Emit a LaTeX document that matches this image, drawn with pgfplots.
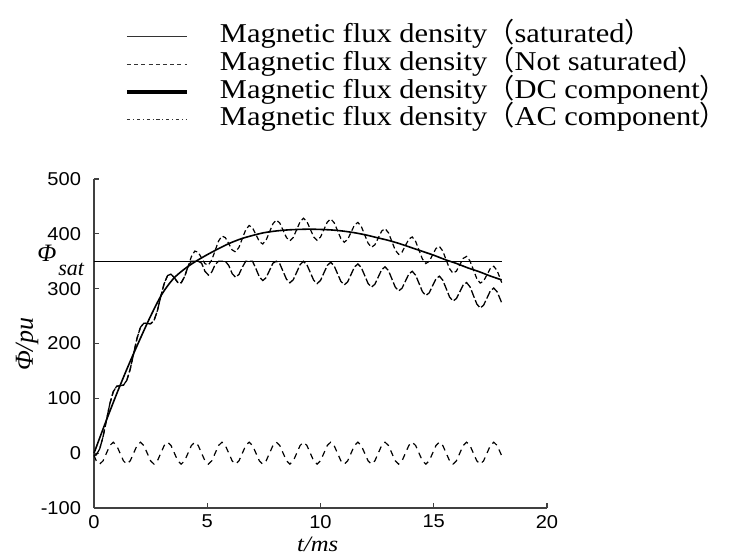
\documentclass[border=0pt]{standalone}
\usepackage{pgfplots}
\pgfplotsset{compat=1.18}
\usepackage{pgfplotstable}
\usepackage{fontspec}
\setmainfont{Liberation Serif}[FakeStretch=1.12]
\newfontfamily\tickfont{Liberation Sans}[FakeStretch=1.08]
\newfontfamily\cjk{Noto Sans CJK SC}
\newfontfamily\labfont{Liberation Serif}
\newcommand{\lp}{{\cjk （}}
\newcommand{\rp}{{\cjk ）}}

\pgfplotstableread{
t ac ns sat
0 -4 -4 -4
0.10 -14 -3 -3
0.25 -20 7.5 7.5
0.40 -14 30 30
0.55 0 60.3 60.3
0.70 14 90.2 90.2
0.85 20 112.1 112.1
1.00 14 122 122
1.15 0 123 123
1.30 -14 124 124
1.45 -20 133 133
1.60 -14 153.4 153.4
1.75 0 181.5 181.5
1.90 14 209.6 209.6
2.05 20 229.5 229.5
2.20 14 237 237
2.35 0 236.5 236.5
2.50 -14 236 236
2.65 -20 242 242
2.80 -14 260 260
2.95 0 286 286
3.10 14 309.6 309.6
3.25 20 324 324
3.40 14 326.4 326.4
3.55 0 319.8 319.8
3.70 -14 311.2 311.2
3.85 -20 310.6 310.6
4.00 -14 322 322
4.15 0 340.2 340.2
4.30 14 358.4 350
4.45 20 368.6 350
4.60 14 366.4 350
4.75 0 356 346.5
4.90 -14 345.6 331.6
5.05 -20 343.1 324.9
5.20 -14 352.4 330.4
5.35 0 369.7 344
5.50 14 387 350
5.65 20 396 350
5.80 14 393 350
5.95 0 382 342.2
6.10 -14 370.6 327.5
6.25 -20 367 320.8
6.40 -14 375.4 326
6.55 0 391.6 339.3
6.70 14 407.4 350
6.85 20 415.2 350
7.00 14 411 350
7.15 0 398.5 336.3
7.30 -14 386 321.5
7.45 -20 381.5 314.8
7.60 -14 388.6 320
7.75 0 403.5 333.3
7.90 14 418.4 346.5
8.05 20 425.2 350
8.20 14 419.8 345.6
8.35 0 406.4 331.3
8.50 -14 393 317
8.65 -20 387.3 310.7
8.80 -14 393.6 316.4
8.95 0 407.9 330.1
9.10 14 422.1 343.9
9.25 20 428.3 349.8
9.40 14 422.4 343.6
9.55 0 408.4 329.5
9.70 -14 394.3 315.3
9.85 -20 388.2 309.2
10.00 -14 394 315
10.15 0 407.7 328.7
10.30 14 421.4 342.4
10.45 20 427.1 348.1
10.60 14 420.6 341.8
10.75 0 406 327.5
10.90 -14 391.4 313.2
11.05 -20 384.7 306.9
11.20 -14 389.8 312.4
11.35 0 402.9 326
11.50 14 416 339.5
11.65 20 420.8 345.1
11.80 14 413.6 338.6
11.95 0 398.4 324.2
12.10 -14 383 309.5
12.25 -20 375.5 302.8
12.40 -14 380 308
12.55 0 392.5 321.3
12.70 14 405 334.5
12.85 20 409.5 339.8
13.00 14 402 333
13.15 0 386.2 318
13.30 -14 370.4 302.9
13.45 -20 362.6 295.9
13.60 -14 366.6 300.8
13.75 0 378.5 313.8
13.90 14 390.4 326.7
14.05 20 394.3 331.7
14.20 14 386.2 324.6
14.35 0 370.1 309.6
14.50 -14 354 294.5
14.65 -20 345.9 287.5
14.80 -14 349.8 292.4
14.95 0 361.7 305.4
15.10 14 373.4 318.1
15.25 20 377 322.8
15.40 14 368.6 315.4
15.55 0 352.3 300.1
15.70 -14 336.2 284.7
15.85 -20 328.1 277.4
16.00 -14 332 282
16.15 0 343.6 294.4
16.30 14 355.2 306.7
16.45 20 358.8 311.1
16.60 14 350.6 303.4
16.75 0 334.5 287.8
16.90 -14 318.4 272.1
17.05 -20 310.2 264.7
17.20 -14 313.8 269.8
17.35 0 325.4 282.9
17.50 14 337 296
17.65 20 340.9 301.1
17.80 14 332.8 294.2
17.95 0 316.7 279.3
18.00 -5 311 274
}\fluxdata

\pgfplotstableread{
t dc
0 0
0.5 55
1 108
1.5 158
2 205
2.5 250
3 290
3.5 318
4 336
4.5 350
5 362
5.5 373
6 383
6.5 391
7 397
7.5 402
8 405
8.5 407
9 408
9.5 408.5
10 408
10.5 407
11 405
11.5 402
12 398
12.5 393
13 388
13.5 382
14 375
14.5 368
15 361
15.5 353
16 346
16.5 338
17 331
17.5 323
18 316
}\dcdata

\begin{document}
\begin{tikzpicture}
\path[use as bounding box] (0,0) rectangle (372bp,279bp);
\begin{axis}[
  at={(47bp,25bp)}, anchor=south west,
  scale only axis, width=226.5bp, height=164.5bp,
  xmin=0, xmax=20, ymin=-100, ymax=500,
  axis x line*=bottom, axis y line*=left,
  xtick={0,5,10,15,20}, ytick={-100,0,100,200,300,400,500},
  tick align=inside, major tick length=2.5bp,
  axis line style={line width=0.7bp, black!75},
  tick style={line width=0.6bp, black!75},
  /pgf/number format/assume math mode=true,
  tick label style={font=\fontsize{9.3bp}{10bp}\tickfont},
  yticklabel style={xshift=-3bp},
  xlabel={\textit{t/ms}},
  ylabel={Φ/\textit{pu}},
  xlabel style={at={(axis description cs:0.494,-0.112)}, anchor=center, font=\fontsize{11bp}{12bp}\selectfont},
  ylabel style={at={(axis description cs:-0.148,0.497)}, anchor=center, rotate=0, font=\fontsize{13bp}{14bp}\labfont\itshape},
  legend style={draw=none, fill=none, inner sep=0pt, outer sep=0pt,
    at={(axis description cs:0.0684,1.475)}, anchor=north west,
    font=\fontsize{13.6bp}{13.85bp}\selectfont,
    row sep=0pt,
    nodes={inner sep=0pt, text height=10bp, text depth=3.85bp},
    /tikz/every odd column/.append style={column sep=15.5bp}},
  legend cell align=left,
  legend image code/.code={\draw[#1] (0bp,0bp) -- (30bp,0bp);},
  clip=false,
]
\addlegendimage{black!80, line width=0.6bp}
\addlegendentry{Magnetic flux density\lp saturated\rp}
\addlegendimage{black!80, line width=0.6bp, dash pattern=on 2bp off 1.6bp}
\addlegendentry{Magnetic flux density\lp Not saturated\rp}
\addlegendimage{black, line width=2bp}
\addlegendentry{Magnetic flux density\lp DC component\rp}
\addlegendimage{black!80, line width=0.6bp, dash pattern=on 1.6bp off 1.4bp on 0.5bp off 1.4bp}
\addlegendentry{Magnetic flux density\lp AC component\rp}

\addplot[forget plot, black, line width=0.7bp] coordinates {(0,350) (18,350)};
\addplot[forget plot, black, line width=0.6bp, dash pattern=on 2.5bp off 1.5bp] table[x=t, y=ns] {\fluxdata};
\addplot[forget plot, black, line width=0.65bp, dash pattern=on 4bp off 1.3bp] table[x=t, y=sat] {\fluxdata};
\addplot[forget plot, black, line width=0.6bp, dash pattern=on 3bp off 2.5bp] table[x=t, y=ac] {\fluxdata};
\addplot[forget plot, black, line width=0.8bp, smooth] table[x=t, y=dc] {\dcdata};

\node[anchor=base west, font=\fontsize{12.5bp}{13bp}\labfont\itshape, inner sep=0pt, xshift=-28.5bp, yshift=0bp] at (axis cs:0,350) {Φ};
\node[anchor=base west, font=\fontsize{11bp}{12bp}\labfont\itshape, inner sep=0pt, xshift=-18bp, yshift=-7bp] at (axis cs:0,350) {sat};
\end{axis}
\end{tikzpicture}
\end{document}
